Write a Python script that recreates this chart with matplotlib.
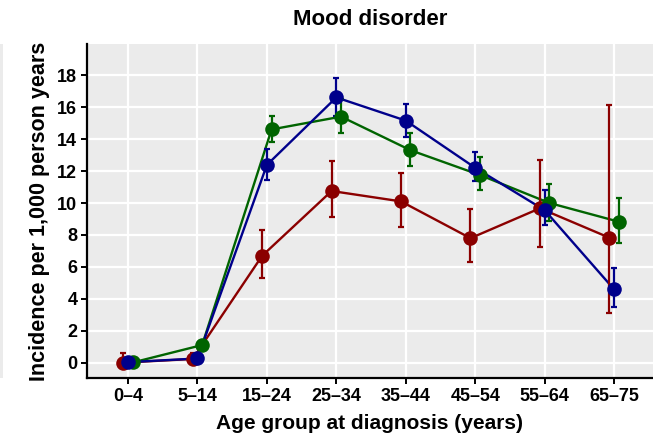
import numpy as np
import matplotlib
matplotlib.use('Agg')
import matplotlib.pyplot as plt
from matplotlib.patches import Rectangle

plt.rcParams['font.family'] = ['Liberation Sans', 'DejaVu Sans']

# Data
age_groups = ['0\u20134', '5\u201314', '15\u201324', '25\u201334', '35\u201344', '45\u201354', '55\u201364', '65\u201375']

red_mean = [0.02, 0.25, 6.7, 10.75, 10.1, 7.8, 9.67, 7.83]
red_low = [0.0, 0.05, 5.33, 9.1, 8.5, 6.3, 7.27, 3.15]
red_high = [0.65, 0.6, 8.3, 12.6, 11.9, 9.6, 12.7, 16.1]

blue_mean = [0.05, 0.28, 12.38, 16.6, 15.15, 12.2, 9.55, 4.6]
blue_low = [0.0, 0.12, 11.44, 15.45, 14.1, 11.4, 8.6, 3.5]
blue_high = [0.25, 0.45, 13.35, 17.8, 16.2, 13.2, 10.8, 5.95]

green_mean = [0.03, 1.12, 14.6, 15.4, 13.3, 11.75, 10.0, 8.83]
green_low = [0.0, 0.85, 13.8, 14.4, 12.3, 10.8, 8.9, 7.5]
green_high = [0.15, 1.4, 15.45, 16.5, 14.4, 12.9, 11.2, 10.3]

series = [
    (red_mean, red_low, red_high, '#8B0000', -0.068),
    (green_mean, green_low, green_high, '#006400', 0.068),
    (blue_mean, blue_low, blue_high, '#00008B', 0.0),
]

W, H = 653, 438
fig = plt.figure(figsize=(W / 100, H / 100), dpi=100)
ax = fig.add_axes([87 / W, (H - 378) / H, (W - 87) / W, (378 - 44) / H])
ax.set_facecolor('#EBEBEB')

x = np.arange(len(age_groups))

# lines first, then error bars and points
for mean, low, high, col, off in series:
    ax.plot(x + off, mean, color=col, lw=1.7, zorder=2)
for mean, low, high, col, off in series:
    m = np.array(mean)
    yerr = [m - np.array(low), np.array(high) - m]
    ax.errorbar(x + off, m, yerr=yerr, fmt='none', ecolor=col, elinewidth=1.6,
                capsize=2.2, capthick=1.6, zorder=3)
    ax.plot(x + off, m, 'o', color=col, ms=10.5, mec='none', zorder=4)

ax.set_xlim(-0.59, 7.56)
ax.set_ylim(-0.94, 19.94)
ax.set_xticks(x)
ax.set_xticklabels(age_groups)
ax.set_yticks(np.arange(0, 19, 2))

ax.grid(True, color='white', lw=1.6)
ax.set_axisbelow(True)
for s in ['top', 'right']:
    ax.spines[s].set_visible(False)
for s in ['left', 'bottom']:
    ax.spines[s].set_linewidth(1.6)
    ax.spines[s].set_color('black')
ax.tick_params(axis='both', length=4, width=1.4, color='black', labelsize=13, pad=3)
for lab in ax.get_xticklabels() + ax.get_yticklabels():
    lab.set_fontweight('bold')

ax.set_xlabel('Age group at diagnosis (years)', fontsize=15, fontweight='bold', labelpad=7)
ax.set_ylabel('Incidence per 1,000 person years', fontsize=15.5, fontweight='bold', labelpad=5)
ax.set_title('Mood disorder', fontsize=16, fontweight='bold', pad=14)

# remnant of neighbouring panel at the left edge
fig.add_artist(Rectangle((0, (H - 378) / H), 2.5 / W, (378 - 44) / H,
                         transform=fig.transFigure, color='#EBEBEB', lw=0))

fig.savefig('out.png', dpi=100)
